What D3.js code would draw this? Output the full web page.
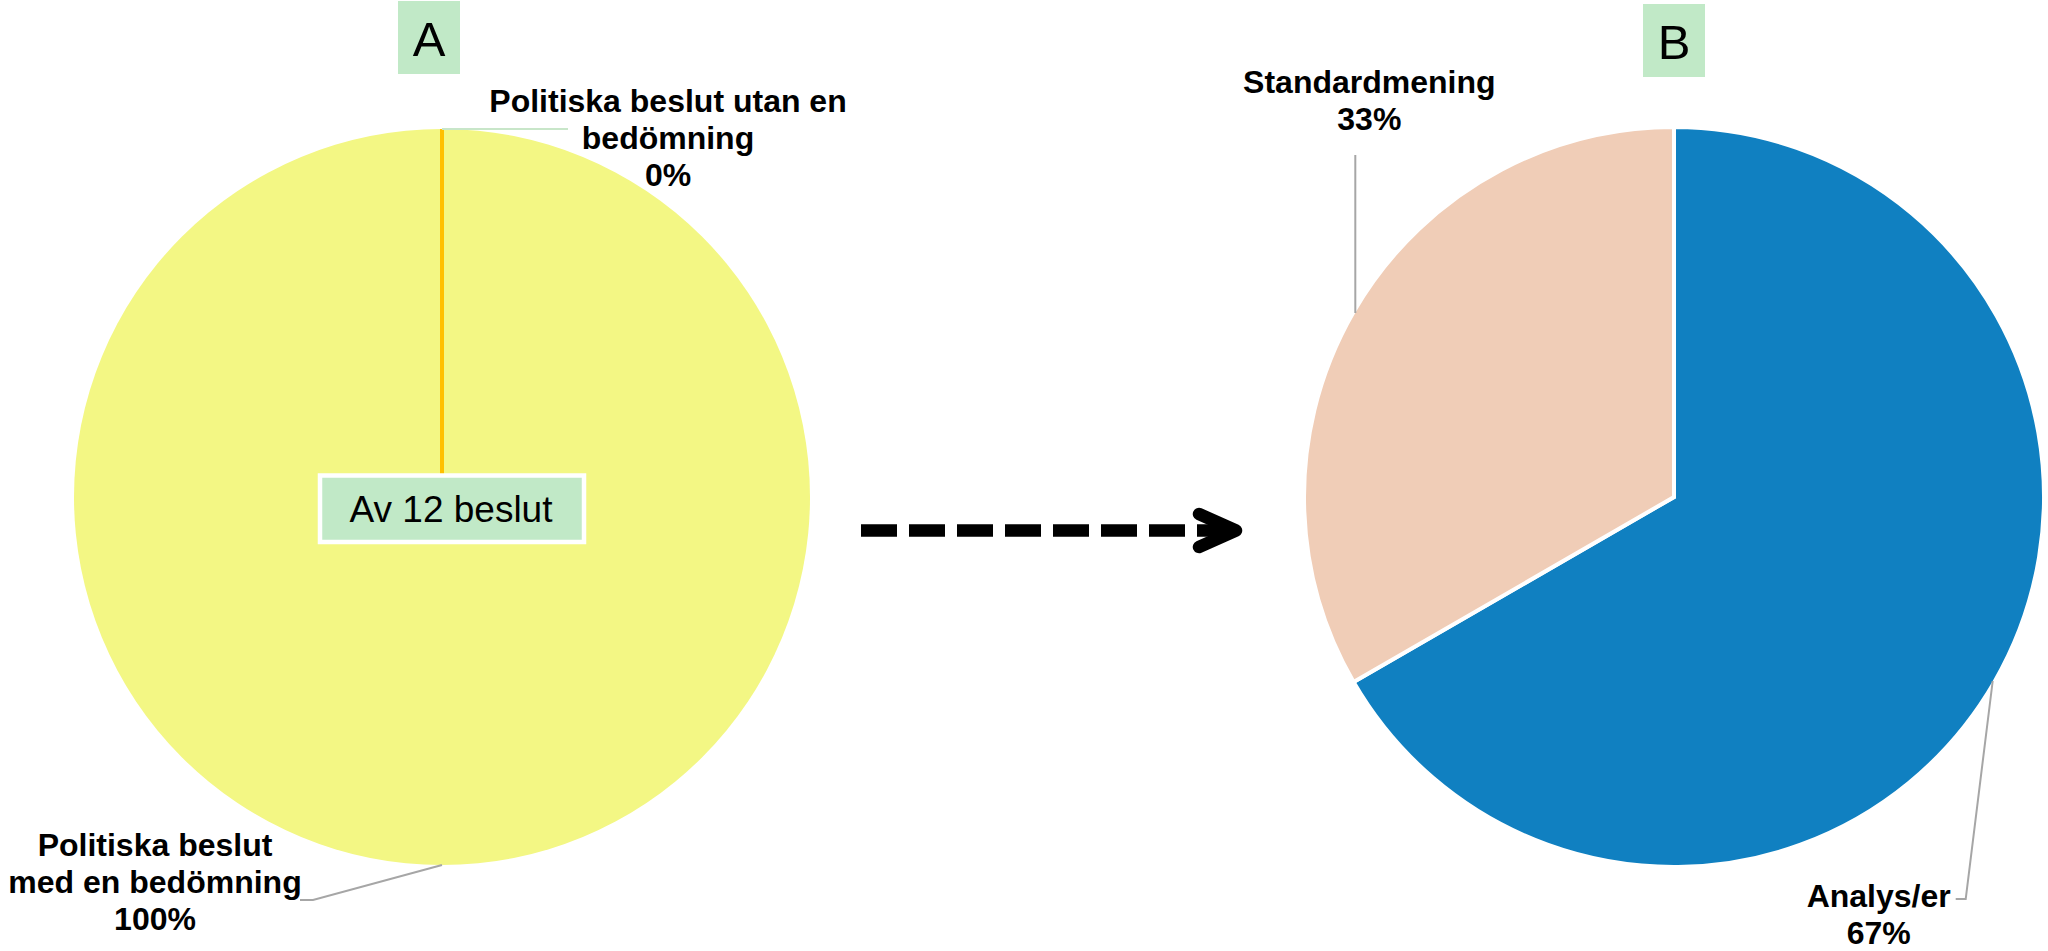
<!DOCTYPE html>
<html lang="en">
<head>
  <meta charset="utf-8" />
  <title>Politiska beslut - pie A and B</title>
  <script src="https://d3js.org/d3.v7.min.js"></script>
  <style>
    body { margin: 0; background: #ffffff; }
    text { font-family: "Liberation Sans", Arial, sans-serif; }
  </style>
</head>
<body>
<script>
  // data for pie A (all decisions) and pie B (decisions with an assessment)
  var categoriesA = ["Politiska beslut med en bedömning", "Politiska beslut utan en bedömning"];
  var labelLinesA = [["Politiska beslut", "med en bedömning"], ["Politiska beslut utan en", "bedömning"]];
  var valuesA = [12, 0];

  var categoriesB = ["Analys/er", "Standardmening"];
  var labelLinesB = [["Analys/er"], ["Standardmening"]];
  var valuesB = [8, 4];

  var panelTitles = ["A", "B"];
  var noteText = "Av 12 beslut";

  var w = 2048;
  var h = 951;
  var radius = 368;

  var svg = d3.select("body")
            .append("svg")
            .attr("width", w)
            .attr("height", h);

  var pie = d3.pie().sort(null).value(function(d) { return d.value; });
  var arc = d3.arc().innerRadius(0).outerRadius(radius);
  var arcB = d3.arc().innerRadius(0).outerRadius(radius + 2); // white stroke eats 2px of the rim
  var edge = d3.arc().innerRadius(radius).outerRadius(radius); // point on the rim

  function pct(v, list) {
    return Math.round(v / d3.sum(list) * 100) + "%";
  }

  // build rows for each pie
  var rowsA = categoriesA.map(function(c, i) {
    return {name: c, value: valuesA[i], lines: labelLinesA[i].concat(pct(valuesA[i], valuesA))};
  });
  var rowsB = categoriesB.map(function(c, i) {
    return {name: c, value: valuesB[i], lines: labelLinesB[i].concat(pct(valuesB[i], valuesB))};
  });

  // ---------- pie A ----------
  var gA = svg.append("g").attr("transform", "translate(442,497)");
  var coloursA = ["#F3F784", "#FFC000"];

  gA.selectAll("path")
      .data(pie(rowsA))
      .enter()
      .append("path")
      .attr("d", arc)
      .attr("fill", function(d, i) { return coloursA[i]; })
      .attr("stroke", function(d, i) { return d.data.value === 0 ? coloursA[i] : "none"; })
      .attr("stroke-width", 4);

  // label leaders and text, placed relative to the rim point of each slice
  var leaderA = [
    {dx: [[-129, 35], [-142, 35]], tx: -287, ty: -9, col: "#A6A6A6"},
    {dx: [[126, 0]], tx: 226, ty: -17, col: "#C8E6C9"}
  ];

  pie(rowsA).forEach(function(d, i) {
    var p = edge.centroid(d);
    var pts = [p].concat(leaderA[i].dx.map(function(o) { return [p[0] + o[0], p[1] + o[1]]; }));
    gA.append("path")
      .attr("d", d3.line()(pts))
      .attr("fill", "none")
      .attr("stroke", leaderA[i].col)
      .attr("stroke-width", 2);
    var t = gA.append("text")
      .attr("x", p[0] + leaderA[i].tx)
      .attr("y", p[1] + leaderA[i].ty)
      .attr("text-anchor", "middle")
      .attr("font-size", "32px")
      .attr("font-weight", "bold")
      .attr("fill", "#000");
    d.data.lines.forEach(function(l, j) {
      t.append("tspan").attr("x", p[0] + leaderA[i].tx).attr("dy", j === 0 ? 0 : 37).text(l);
    });
  });

  // the "Av 12 beslut" note box
  svg.append("rect")
      .attr("x", 320)
      .attr("y", 475.5)
      .attr("width", 264)
      .attr("height", 66.5)
      .attr("fill", "#C1E9C7")
      .attr("stroke", "#ffffff")
      .attr("stroke-width", 4.5);
  svg.append("text")
      .attr("x", 451)
      .attr("y", 521.5)
      .attr("text-anchor", "middle")
      .attr("font-size", "37px")
      .attr("fill", "#000")
      .text(noteText);

  // ---------- pie B ----------
  var gB = svg.append("g").attr("transform", "translate(1674,497)");
  var coloursB = ["#1080C1", "#F0CDB7"];

  gB.selectAll("path")
      .data(pie(rowsB))
      .enter()
      .append("path")
      .attr("d", arcB)
      .attr("fill", function(d, i) { return coloursB[i]; })
      .attr("stroke", "#ffffff")
      .attr("stroke-width", 4);

  var leaderB = [
    {dx: [[-27, 218], [-37, 218]], tx: -114, ty: 226},
    {dx: [[0, -158]], tx: 14, ty: -220}
  ];

  pie(rowsB).forEach(function(d, i) {
    var p = edge.centroid(d);
    var pts = [p].concat(leaderB[i].dx.map(function(o) { return [p[0] + o[0], p[1] + o[1]]; }));
    gB.append("path")
      .attr("d", d3.line()(pts))
      .attr("fill", "none")
      .attr("stroke", "#A6A6A6")
      .attr("stroke-width", 2);
    var t = gB.append("text")
      .attr("x", p[0] + leaderB[i].tx)
      .attr("y", p[1] + leaderB[i].ty)
      .attr("text-anchor", "middle")
      .attr("font-size", "32px")
      .attr("font-weight", "bold")
      .attr("fill", "#000");
    d.data.lines.forEach(function(l, j) {
      t.append("tspan").attr("x", p[0] + leaderB[i].tx).attr("dy", j === 0 ? 0 : 37).text(l);
    });
  });

  // ---------- panel titles A / B ----------
  var titlePos = [[398, 1], [1643, 4]];
  panelTitles.forEach(function(s, i) {
    svg.append("rect")
        .attr("x", titlePos[i][0])
        .attr("y", titlePos[i][1])
        .attr("width", 62)
        .attr("height", 73)
        .attr("fill", "#C1E9C7");
    svg.append("text")
        .attr("x", titlePos[i][0] + 31)
        .attr("y", titlePos[i][1] + 55)
        .attr("text-anchor", "middle")
        .attr("font-size", "49px")
        .attr("fill", "#000")
        .text(s);
  });

  // ---------- dashed arrow from A to B ----------
  svg.append("line")
      .attr("x1", 861)
      .attr("x2", 1222)
      .attr("y1", 530.5)
      .attr("y2", 530.5)
      .attr("stroke", "#000")
      .attr("stroke-width", 12.5)
      .attr("stroke-dasharray", "36,12");
  svg.append("path")
      .attr("d", "M1199,514L1236,530.5L1199,547")
      .attr("fill", "none")
      .attr("stroke", "#000")
      .attr("stroke-width", 12.5)
      .attr("stroke-linecap", "round")
      .attr("stroke-linejoin", "round");
</script>
</body>
</html>
